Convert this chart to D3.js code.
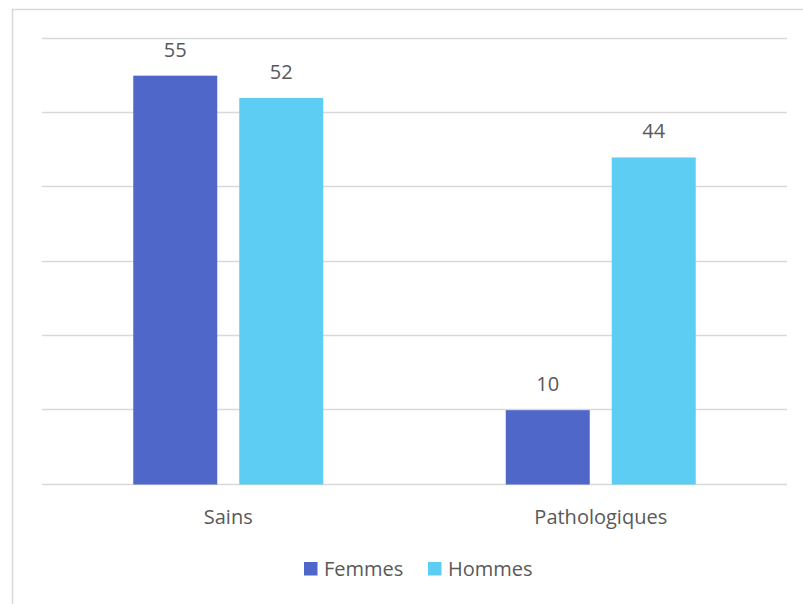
<!DOCTYPE html>
<html>
<head>
<meta charset="utf-8">
<script src="https://cdn.jsdelivr.net/npm/d3@7"></script>
<style>
  html, body { margin: 0; padding: 0; background: #fff; }
  svg { display: block; }
  text { font-family: "Open Sans", "Noto Sans", sans-serif; fill: #595959; }
</style>
</head>
<body>
<div id="chart"></div>
<script>
// Chart data
const categories = ["Sains", "Pathologiques"];
const seriesNames = ["Femmes", "Hommes"];
const femmes = [55, 10];
const hommes = [52, 44];
const yTicks = [0, 10, 20, 30, 40, 50, 60];
const colors = ["#4F67C9", "#5ECDF3"];

const W = 803, H = 604;
const svg = d3.select("#chart").append("svg").attr("width", W).attr("height", H);

// Outer chart frame (extends beyond right/bottom edges)
svg.append("rect")
  .attr("x", 12.5).attr("y", 9.5)
  .attr("width", W + 20).attr("height", H + 20)
  .attr("fill", "#fff").attr("stroke", "#d9d9d9").attr("stroke-width", 1.5);

const plot = { left: 42, right: 787, top: 38.5, bottom: 484.5 };

const x = d3.scaleBand().domain(categories).range([plot.left, plot.right]).paddingInner(0).paddingOuter(0);
const x1 = d3.scaleBand().domain(seriesNames).range([0, x.bandwidth()]).paddingInner(0.2075).paddingOuter(0.861);
const y = d3.scaleLinear().domain([0, 60]).range([plot.bottom, plot.top]);

// Horizontal gridlines
svg.append("g")
  .selectAll("line").data(yTicks).join("line")
  .attr("x1", plot.left).attr("x2", plot.right)
  .attr("y1", d => Math.round(y(d)) - 0.5).attr("y2", d => Math.round(y(d)) - 0.5)
  .attr("stroke", "#d9d9d9").attr("stroke-width", 1.5);

const rows = categories.map((c, i) => ({
  cat: c,
  vals: [{ s: seriesNames[0], v: femmes[i] }, { s: seriesNames[1], v: hommes[i] }]
}));

const groups = svg.append("g").selectAll("g").data(rows).join("g")
  .attr("transform", d => `translate(${x(d.cat)},0)`);

groups.selectAll("rect").data(d => d.vals).join("rect")
  .attr("x", d => x1(d.s))
  .attr("width", x1.bandwidth())
  .attr("y", d => y(d.v))
  .attr("height", d => y(0) - y(d.v))
  .attr("fill", (d, i) => colors[i]);

groups.selectAll("text.val").data(d => d.vals).join("text")
  .attr("class", "val")
  .attr("x", d => x1(d.s) + x1.bandwidth() / 2)
  .attr("y", d => y(d.v) - 19)
  .attr("text-anchor", "middle")
  .attr("font-size", 20)
  .text(d => d.v);

// Category axis labels
const xAxis = d3.axisBottom(x).tickSize(0).tickPadding(0);
const xg = svg.append("g").attr("transform", `translate(0,${plot.bottom})`).call(xAxis);
xg.select(".domain").remove();
xg.selectAll("text")
  .attr("dy", null)
  .attr("y", 39)
  .attr("font-size", 20)
  .attr("fill", "#595959")
  .style("font-family", '"Open Sans", "Noto Sans", sans-serif');

// Legend
const legendItems = [
  { name: seriesNames[0], color: colors[0], x: 304 },
  { name: seriesNames[1], color: colors[1], x: 428 }
];
const lg = svg.append("g").selectAll("g").data(legendItems).join("g")
  .attr("transform", d => `translate(${d.x},0)`);
lg.append("rect").attr("x", 0).attr("y", 562).attr("width", 13.5).attr("height", 13.5)
  .attr("fill", d => d.color);
lg.append("text").attr("x", 20).attr("y", 576).attr("font-size", 20).text(d => d.name);
</script>
</body>
</html>
